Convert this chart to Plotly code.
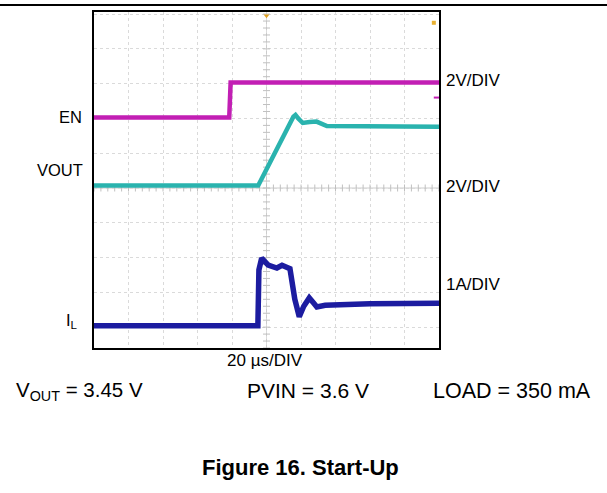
import plotly.graph_objects as go

# ---- data (oscilloscope divisions: x 0..10, y centred on the middle graticule line) ----
en_x = [0, 3.92, 3.96, 10]
en_y = [2.03, 2.03, 3.03, 3.03]

vout_x = [0, 4.76, 5.78, 5.84, 5.92, 6.05, 6.25, 6.45, 6.75, 10]
vout_y = [0.07, 0.07, 2.05, 2.10, 2.00, 1.87, 1.90, 1.91, 1.78, 1.76]

il_x = [0, 4.75, 4.78, 4.86, 5.05, 5.30, 5.45, 5.68, 5.82, 5.95, 6.08, 6.24, 6.36, 6.46, 6.70, 8.0, 10]
il_y = [-3.96, -3.96, -2.35, -2.02, -2.22, -2.30, -2.22, -2.32, -3.20, -3.70, -3.40, -3.16, -3.30, -3.42, -3.37, -3.33, -3.31]

x_range = [0, 10]
y_range = [-4.6, 5.06]

# plot frame in pixels
L, R, T, B = 94, 439, 10, 348
W, H = 607, 493


def px(x):
    return (x - L) / (R - L)


def py(y):
    return (B - y) / (B - T)


FONT = "Liberation Sans, Arial, sans-serif"

fig = go.Figure()

# centre graticule with minor ticks
tick_x = [5 + 0.2 * k for k in range(-25, 26)]
tick_y = [0.2 * k for k in range(-23, 26)]
fig.add_trace(go.Scatter(x=tick_x, y=[0] * len(tick_x), mode="markers",
                         marker=dict(symbol="line-ns", size=5, line=dict(color="#c0c0c0", width=1)),
                         hoverinfo="skip", showlegend=False))
fig.add_trace(go.Scatter(x=[5] * len(tick_y), y=tick_y, mode="markers",
                         marker=dict(symbol="line-ew", size=5, line=dict(color="#c0c0c0", width=1)),
                         hoverinfo="skip", showlegend=False))

fig.add_trace(go.Scatter(x=en_x, y=en_y, mode="lines", line=dict(color="#C21FB4", width=4.5),
                         showlegend=False, name="EN"))
fig.add_trace(go.Scatter(x=vout_x, y=vout_y, mode="lines", line=dict(color="#2AB3AE", width=4.5),
                         showlegend=False, name="VOUT"))
fig.add_trace(go.Scatter(x=il_x, y=il_y, mode="lines", line=dict(color="#1C1CA0", width=5.5),
                         showlegend=False, name="IL"))

# small scope markers
fig.add_trace(go.Scatter(x=[5.0], y=[4.95], mode="markers",
                         marker=dict(symbol="triangle-down", size=5, color="#E0A020"),
                         hoverinfo="skip", showlegend=False))
fig.add_trace(go.Scatter(x=[9.85], y=[4.75], mode="markers",
                         marker=dict(symbol="square", size=4, color="#E8B030"),
                         hoverinfo="skip", showlegend=False))
fig.add_trace(go.Scatter(x=[9.95], y=[2.6], mode="markers",
                         marker=dict(symbol="line-ew", size=5, line=dict(color="#C21FB4", width=2)),
                         hoverinfo="skip", showlegend=False))

fig.add_shape(type="line", x0=5, x1=5, y0=y_range[0], y1=y_range[1], xref="x", yref="y",
              line=dict(color="#cccccc", width=1), layer="below")
fig.add_shape(type="line", x0=0, x1=10, y0=0, y1=0, xref="x", yref="y",
              line=dict(color="#cccccc", width=1), layer="below")

# top page rule
fig.add_shape(type="line", xref="paper", yref="paper", x0=px(0), x1=px(W), y0=py(3), y1=py(3),
              line=dict(color="black", width=2))

ann = [
    ("EN", 84, 116, "right", 16.5),
    ("VOUT", 85, 169, "right", 16.5),
    ("I<sub>L</sub>", 80, 321, "right", 16.5),
    ("2V/DIV", 444, 79, "left", 17),
    ("2V/DIV", 444, 186, "left", 17),
    ("1A/DIV", 444, 284, "left", 17),
    ("20 µs/DIV", 265, 361, "center", 17),
    ("V<sub>OUT</sub> = 3.45 V", 14, 391, "left", 20.5),
    ("PVIN = 3.6 V", 308, 391, "center", 21),
    ("LOAD = 350 mA", 593, 391, "right", 21.5),
    ("<b>Figure 16. Start-Up</b>", 300, 468, "center", 22),
]
for text, x, y, xa, size in ann:
    fig.add_annotation(text=text, x=px(x), y=py(y), xref="paper", yref="paper",
                       xanchor=xa, yanchor="middle", showarrow=False,
                       font=dict(family=FONT, size=size, color="black"))

fig.update_xaxes(range=x_range, dtick=1, showticklabels=False, ticks="",
                 showgrid=True, gridcolor="#dadada", griddash="dot", gridwidth=1,
                 zeroline=False, showline=True, mirror=True, linecolor="black", linewidth=2)
fig.update_yaxes(range=y_range, dtick=1, tick0=0, showticklabels=False, ticks="",
                 showgrid=True, gridcolor="#dadada", griddash="dot", gridwidth=1,
                 zeroline=False, showline=True, mirror=True, linecolor="black", linewidth=2)

fig.update_layout(width=W, height=H, margin=dict(l=L, r=W - R, t=T, b=H - B),
                  paper_bgcolor="white", plot_bgcolor="white",
                  font=dict(family=FONT, color="black"))

fig.write_html("out.html", config={"displayModeBar": False},
               post_script="document.body.style.margin='0';document.body.style.overflow='hidden';")
